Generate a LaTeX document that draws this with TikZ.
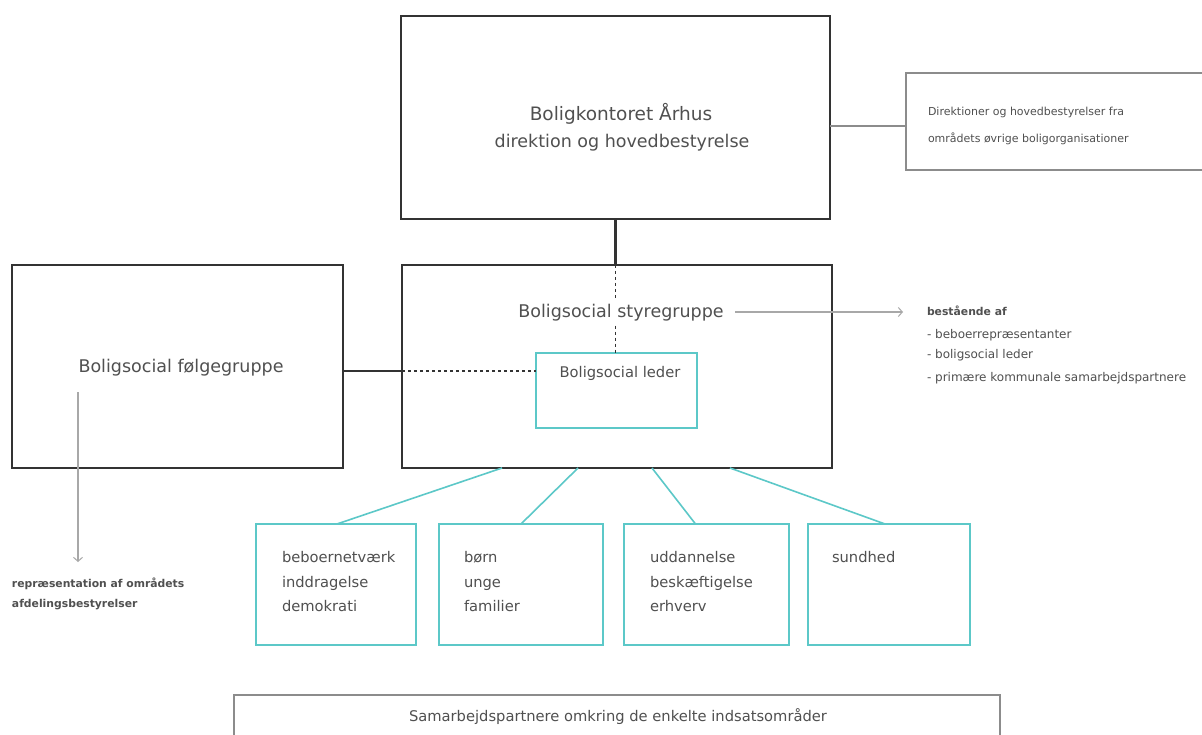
\documentclass[tikz,border=0pt]{standalone}
\usepackage{fontspec}
\setmainfont{DejaVu Sans}
\usetikzlibrary{arrows.meta,calc}
\definecolor{dk}{HTML}{333333}
\definecolor{tx}{HTML}{505050}
\definecolor{cy}{HTML}{5CC8C8}
\definecolor{lg}{HTML}{8C8C8C}
\definecolor{llg}{HTML}{A8A8A8}
\begin{document}
\begin{tikzpicture}[x=1pt,y=-1pt,
  every node/.style={text=tx, inner sep=0pt, outer sep=0pt},
  bigbox/.style={draw=dk, line width=2.6pt, anchor=north west},
  thinbox/.style={draw=lg, line width=1.2pt, anchor=north west},
  cybox/.style={draw=cy, line width=1.4pt, anchor=north west},
  bigtxt/.style={font=\fontsize{17.5}{21}\selectfont},
  midtxt/.style={font=\fontsize{14.7}{17}\selectfont, anchor=base west},
  smalltxt/.style={font=\fontsize{11}{13}\selectfont, anchor=base west},
  listtxt/.style={font=\fontsize{12}{14}\selectfont, anchor=base west},
  boldtxt/.style={font=\fontsize{10.8}{13}\selectfont\bfseries, anchor=base west},
  thickline/.style={draw=dk, line width=2.6pt},
  dashline/.style={draw=dk, line width=1.5pt, dash pattern=on 3pt off 3pt},
  cyline/.style={draw=cy, line width=1.6pt},
  greyline/.style={draw=llg, line width=1.1pt},
  arr/.style={greyline, -{Straight Barb[length=4pt,width=9pt,line width=1pt]}}
]
\useasboundingbox (0,0) rectangle (1202,735);
\fill[white] (0,0) rectangle (1202,735);

% boxes
\node[bigbox, minimum width=429pt, minimum height=203pt] (top) at (401,16) {};
\node[thinbox, minimum width=320pt, minimum height=97pt] (right) at (906,73) {};
\node[bigbox, minimum width=331pt, minimum height=203pt] (left) at (12,265) {};
\node[bigbox, minimum width=430pt, minimum height=203pt] (styr) at (402,265) {};
\node[cybox, minimum width=161pt, minimum height=75pt] (leader) at (536,353) {};
\node[cybox, minimum width=160pt, minimum height=121pt] (b1) at (256,524) {};
\node[cybox, minimum width=164pt, minimum height=121pt] (b2) at (439,524) {};
\node[cybox, minimum width=165pt, minimum height=121pt] (b3) at (624,524) {};
\node[cybox, minimum width=162pt, minimum height=121pt] (b4) at (808,524) {};
\node[thinbox, minimum width=766pt, minimum height=60pt] (bottom) at (234,695) {};

% texts
\node[bigtxt, anchor=base, font=\fontsize{18.5}{21}\selectfont] (topT1) at (621,121) {Boligkontoret Århus};
\node[bigtxt, anchor=base] (topT2) at (622,148) {direktion og hovedbestyrelse};
\node[smalltxt] (rightT1) at (928,116) {Direktioner og hovedbestyrelser fra};
\node[smalltxt] (rightT2) at (928,143) {områdets øvrige boligorganisationer};
\node[bigtxt, anchor=base] (leftT) at (181,372) {Boligsocial følgegruppe};
\node[bigtxt, anchor=base, inner ysep=4pt] (styrT) at (621,318) {Boligsocial styregruppe};
\node[midtxt, anchor=base] (leaderT) at (620,377) {Boligsocial leder};

\node[boldtxt] (best) at (927,316) {bestående af};
\node[listtxt] (l1) at (927,338) {- beboerrepræsentanter};
\node[listtxt] (l2) at (927,358) {- boligsocial leder};
\node[listtxt] (l3) at (927,381) {- primære kommunale samarbejdspartnere};

\node[boldtxt] (rep1) at (12,587) {repræsentation af områdets};
\node[boldtxt] (rep2) at (12,607) {afdelingsbestyrelser};

\node[midtxt] (b1a) at (282,562) {beboernetværk};
\node[midtxt] (b1b) at (282,587) {inddragelse};
\node[midtxt] (b1c) at (282,611) {demokrati};
\node[midtxt] (b2a) at (464,562) {børn};
\node[midtxt] (b2b) at (464,587) {unge};
\node[midtxt] (b2c) at (464,611) {familier};
\node[midtxt] (b3a) at (650,562) {uddannelse};
\node[midtxt] (b3b) at (650,587) {beskæftigelse};
\node[midtxt] (b3c) at (650,611) {erhverv};
\node[midtxt] (b4a) at (832,562) {sundhed};

\node[midtxt, anchor=base] (botT) at (618,721) {Samarbejdspartnere omkring de enkelte indsatsområder};

% connectors
\coordinate (rj) at (906,126);
\draw[greyline, draw=lg] (rj -| top.east) -- (rj);
\draw[thickline] (top.south) -- (top.south |- styr.north);
\draw[dashline] (top.south |- styr.north) -- (top.south |- styrT.north);
\draw[dashline] (top.south |- styrT.south) -- (top.south |- leader.north);
\coordinate (j) at (402,371);
\draw[thickline] (left.east |- j) -- (j);
\draw[dashline] (j) -- (j -| leader.west);

\coordinate (s1) at (502,468);
\coordinate (s2) at (578,468);
\coordinate (s3) at (652,468);
\coordinate (s4) at (730,468);
\draw[cyline] (s1) -- ($(b1.north)+(1,0)$);
\draw[cyline] (s2) -- (b2.north);
\draw[cyline] (s3) -- ($(b3.north)+(-11,0)$);
\draw[cyline] (s4) -- ($(b4.north)+(-4,0)$);

\coordinate (aS) at (735,312);
\coordinate (aE) at (903,312);
\draw[arr] (aS) -- (aE);
\coordinate (fA) at (78,392);
\coordinate (fE) at (78,562);
\draw[arr] (fA) -- (fE);
\end{tikzpicture}
\end{document}
